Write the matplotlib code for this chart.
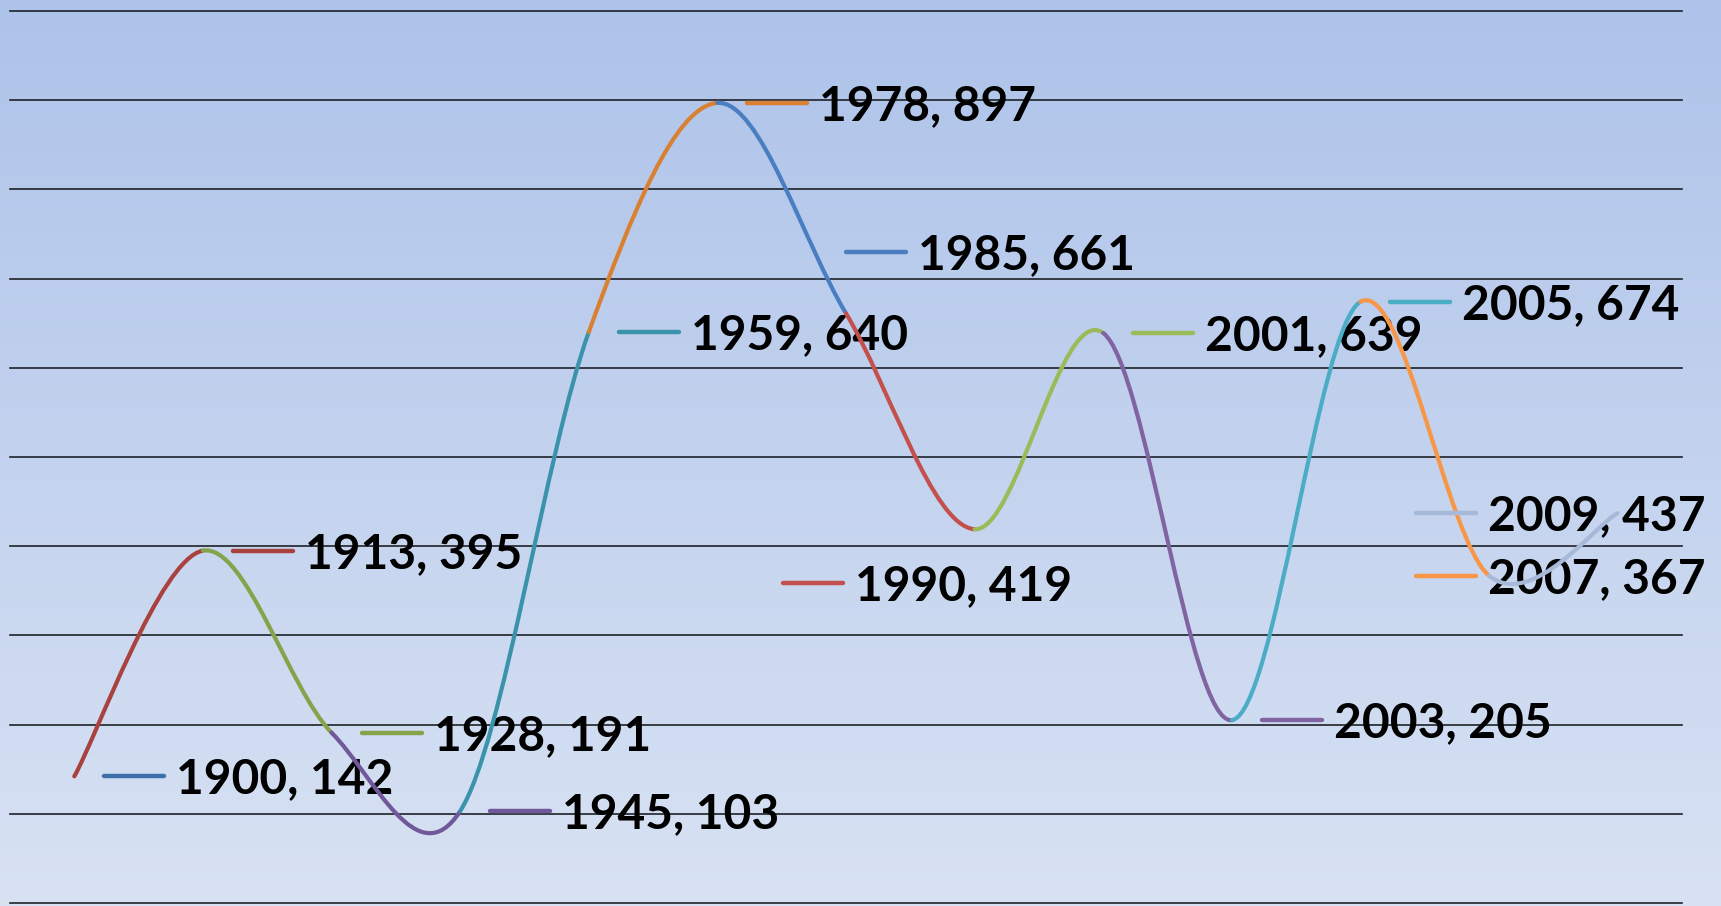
import numpy as np
import matplotlib
matplotlib.use("Agg")
import matplotlib.pyplot as plt
from matplotlib.path import Path
from matplotlib.patches import PathPatch
from matplotlib.lines import Line2D
from matplotlib.transforms import IdentityTransform
from matplotlib.colors import LinearSegmentedColormap

# ---- data -------------------------------------------------------------
years = [1900, 1913, 1928, 1945, 1959, 1978, 1985, 1990, 2001, 2003, 2005, 2007, 2009]
values = [142, 395, 191, 103, 640, 897, 661, 419, 639, 205, 674, 367, 437]
point_colors = ["#3F6FA8", "#A9423F", "#86A34B", "#71589A", "#3A93AB", "#D98132",
                "#4A7EC1", "#C4504D", "#9BBB59", "#8064A2", "#4BACC6", "#F79646",
                "#A7B9D8"]
y_ticks = list(range(0, 1001, 100))

# label placement nudges in pixels: leader start (relative to the point), vertical shift
label_dx = {1985: 0, 1990: -192, 2007: -73, 2009: -202}
label_dy = {1985: 61, 1990: -54}
DEFAULT_DX = 30
LEADER_LEN = 60
TEXT_GAP = 72

W, H, DPI = 1721, 906, 100
fig = plt.figure(figsize=(W / DPI, H / DPI), dpi=DPI)

# vertical gradient backdrop
bg = fig.add_axes([0, 0, 1, 1], zorder=-10)
grad = np.linspace(0, 1, 256).reshape(-1, 1)
cmap = LinearSegmentedColormap.from_list("bg", ["#AEC3EA", "#D8E2F3"])
bg.imshow(grad, aspect="auto", cmap=cmap, extent=[0, 1, 0, 1], origin="upper")
bg.set_axis_off()

left, right, top, bottom = 10, 1682, 11, 903
ax = fig.add_axes([left / W, (H - bottom) / H, (right - left) / W, (bottom - top) / H])
ax.set_facecolor("none")
n = len(values)
ax.set_xlim(-0.5, n - 0.5)
ax.set_ylim(y_ticks[0], y_ticks[-1])
for s in ax.spines.values():
    s.set_visible(False)
ax.set_xticks([])
ax.set_yticks([])

# horizontal gridlines
for t in y_ticks:
    ax.axhline(t, color="#1E2228", lw=1.2, zorder=1, clip_on=False)

# smoothed line, one Bezier segment per interval, coloured by its end point
pts = np.column_stack([np.arange(n, dtype=float), np.array(values, dtype=float)])
padded = np.vstack([pts[:1], pts, pts[-1:]])
tang = (padded[2:] - padded[:-2]) / 2.0
for i in range(n - 1):
    p0, p3 = pts[i], pts[i + 1]
    c1 = p0 + tang[i] / 3.0
    c2 = p3 - tang[i + 1] / 3.0
    path = Path([p0, c1, c2, p3], [Path.MOVETO, Path.CURVE4, Path.CURVE4, Path.CURVE4])
    ax.add_patch(PathPatch(path, fill=False, edgecolor=point_colors[i + 1], lw=3.0,
                           capstyle="round", zorder=4))

# data labels with short coloured leader keys
fig.canvas.draw()
for i, (yr, v) in enumerate(zip(years, values)):
    px, py = ax.transData.transform((i, v))
    dx = label_dx.get(yr, DEFAULT_DX)
    dy = label_dy.get(yr, 0)
    ln = Line2D([px + dx, px + dx + LEADER_LEN], [py + dy, py + dy],
                transform=IdentityTransform(), color=point_colors[i], lw=3.2,
                solid_capstyle="round", zorder=2)
    fig.add_artist(ln)
    ax.annotate(f"{yr}, {v}", xy=(i, v), xytext=(dx + TEXT_GAP, dy - 17),
                textcoords="offset pixels", ha="left", va="baseline",
                fontsize=34.5, fontweight="bold", family=["Lato", "DejaVu Sans"],
                color="#000000", zorder=3, annotation_clip=False)

fig.savefig("out.png", dpi=DPI)
